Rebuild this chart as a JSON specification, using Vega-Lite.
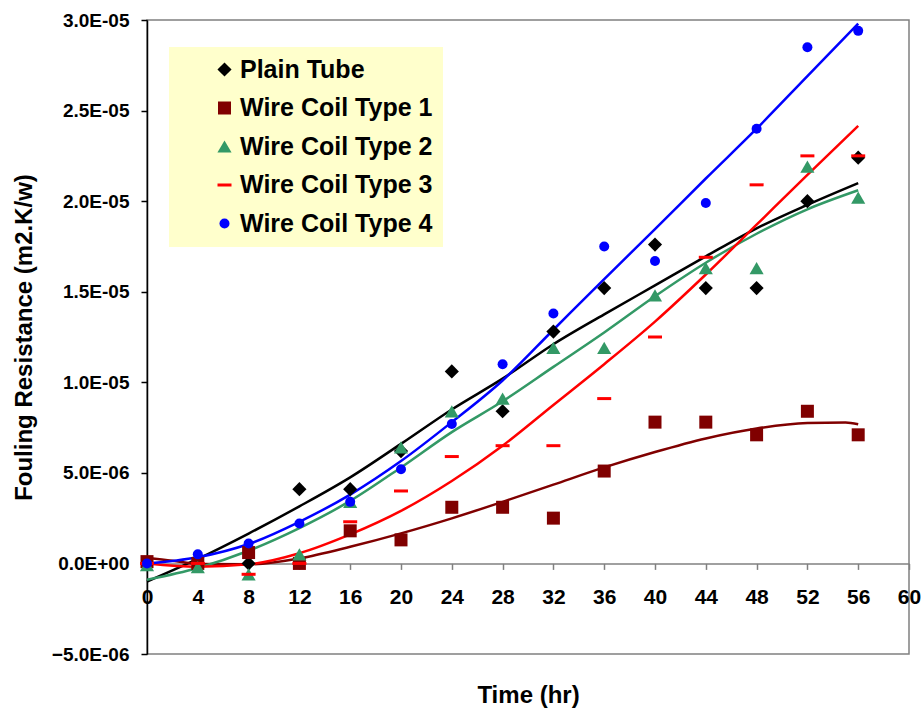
{
"$schema": "https://vega.github.io/schema/vega-lite/v6.json",
"width": 762, "height": 634,
"autosize": {"type": "none"},
"padding": {"left": 147, "top": 20, "right": 12, "bottom": 56},
"background": "white",
"config": {"font": "Liberation Sans", "view": {"stroke": "#808080", "strokeWidth": 1.5}, "axis": {"grid": false}},
"datasets": {
"pts": [
{"s":"Plain Tube","t":0,"v":0},{"s":"Plain Tube","t":4,"v":0},{"s":"Plain Tube","t":8,"v":0},{"s":"Plain Tube","t":12,"v":4.1e-6},{"s":"Plain Tube","t":16,"v":4.1e-6},{"s":"Plain Tube","t":20,"v":6.2e-6},{"s":"Plain Tube","t":24,"v":1.06e-5},{"s":"Plain Tube","t":28,"v":8.4e-6},{"s":"Plain Tube","t":32,"v":1.28e-5},{"s":"Plain Tube","t":36,"v":1.52e-5},{"s":"Plain Tube","t":40,"v":1.76e-5},{"s":"Plain Tube","t":44,"v":1.52e-5},{"s":"Plain Tube","t":48,"v":1.52e-5},{"s":"Plain Tube","t":52,"v":2.0e-5},{"s":"Plain Tube","t":56,"v":2.24e-5},
{"s":"Wire Coil Type 1","t":0,"v":1e-7},{"s":"Wire Coil Type 1","t":4,"v":0},{"s":"Wire Coil Type 1","t":8,"v":6e-7},{"s":"Wire Coil Type 1","t":12,"v":0},{"s":"Wire Coil Type 1","t":16,"v":1.8e-6},{"s":"Wire Coil Type 1","t":20,"v":1.3e-6},{"s":"Wire Coil Type 1","t":24,"v":3.1e-6},{"s":"Wire Coil Type 1","t":28,"v":3.1e-6},{"s":"Wire Coil Type 1","t":32,"v":2.5e-6},{"s":"Wire Coil Type 1","t":36,"v":5.1e-6},{"s":"Wire Coil Type 1","t":40,"v":7.8e-6},{"s":"Wire Coil Type 1","t":44,"v":7.8e-6},{"s":"Wire Coil Type 1","t":48,"v":7.1e-6},{"s":"Wire Coil Type 1","t":52,"v":8.4e-6},{"s":"Wire Coil Type 1","t":56,"v":7.1e-6},
{"s":"Wire Coil Type 2","t":0,"v":-1e-7},{"s":"Wire Coil Type 2","t":4,"v":-2e-7},{"s":"Wire Coil Type 2","t":8,"v":-6e-7},{"s":"Wire Coil Type 2","t":12,"v":5e-7},{"s":"Wire Coil Type 2","t":16,"v":3.4e-6},{"s":"Wire Coil Type 2","t":20,"v":6.4e-6},{"s":"Wire Coil Type 2","t":24,"v":8.4e-6},{"s":"Wire Coil Type 2","t":28,"v":9.1e-6},{"s":"Wire Coil Type 2","t":32,"v":1.19e-5},{"s":"Wire Coil Type 2","t":36,"v":1.19e-5},{"s":"Wire Coil Type 2","t":40,"v":1.48e-5},{"s":"Wire Coil Type 2","t":44,"v":1.63e-5},{"s":"Wire Coil Type 2","t":48,"v":1.63e-5},{"s":"Wire Coil Type 2","t":52,"v":2.19e-5},{"s":"Wire Coil Type 2","t":56,"v":2.02e-5},
{"s":"Wire Coil Type 3","t":0,"v":0},{"s":"Wire Coil Type 3","t":4,"v":0},{"s":"Wire Coil Type 3","t":8,"v":-6e-7},{"s":"Wire Coil Type 3","t":12,"v":0},{"s":"Wire Coil Type 3","t":16,"v":2.3e-6},{"s":"Wire Coil Type 3","t":20,"v":4.0e-6},{"s":"Wire Coil Type 3","t":24,"v":5.9e-6},{"s":"Wire Coil Type 3","t":28,"v":6.5e-6},{"s":"Wire Coil Type 3","t":32,"v":6.5e-6},{"s":"Wire Coil Type 3","t":36,"v":9.1e-6},{"s":"Wire Coil Type 3","t":40,"v":1.25e-5},{"s":"Wire Coil Type 3","t":44,"v":1.69e-5},{"s":"Wire Coil Type 3","t":48,"v":2.09e-5},{"s":"Wire Coil Type 3","t":52,"v":2.25e-5},{"s":"Wire Coil Type 3","t":56,"v":2.25e-5},
{"s":"Wire Coil Type 4","t":0,"v":0},{"s":"Wire Coil Type 4","t":4,"v":5e-7},{"s":"Wire Coil Type 4","t":8,"v":1.1e-6},{"s":"Wire Coil Type 4","t":12,"v":2.2e-6},{"s":"Wire Coil Type 4","t":16,"v":3.4e-6},{"s":"Wire Coil Type 4","t":20,"v":5.2e-6},{"s":"Wire Coil Type 4","t":24,"v":7.7e-6},{"s":"Wire Coil Type 4","t":28,"v":1.1e-5},{"s":"Wire Coil Type 4","t":32,"v":1.38e-5},{"s":"Wire Coil Type 4","t":36,"v":1.75e-5},{"s":"Wire Coil Type 4","t":40,"v":1.67e-5},{"s":"Wire Coil Type 4","t":44,"v":1.99e-5},{"s":"Wire Coil Type 4","t":48,"v":2.4e-5},{"s":"Wire Coil Type 4","t":52,"v":2.85e-5},{"s":"Wire Coil Type 4","t":56,"v":2.94e-5}
],
"trend": [
{"s":"Plain Tube","t":0,"v":-1.0e-6},{"s":"Plain Tube","t":4,"v":2.5e-7},{"s":"Plain Tube","t":8,"v":1.65e-6},{"s":"Plain Tube","t":12,"v":3.15e-6},{"s":"Plain Tube","t":16,"v":4.75e-6},{"s":"Plain Tube","t":20,"v":6.6e-6},{"s":"Plain Tube","t":24,"v":8.5e-6},{"s":"Plain Tube","t":28,"v":1.02e-5},{"s":"Plain Tube","t":32,"v":1.21e-5},{"s":"Plain Tube","t":36,"v":1.375e-5},{"s":"Plain Tube","t":40,"v":1.535e-5},{"s":"Plain Tube","t":44,"v":1.695e-5},{"s":"Plain Tube","t":48,"v":1.85e-5},{"s":"Plain Tube","t":52,"v":1.98e-5},{"s":"Plain Tube","t":56,"v":2.1e-5},
{"s":"Wire Coil Type 1","t":0,"v":3e-7},{"s":"Wire Coil Type 1","t":2,"v":1.5e-7},{"s":"Wire Coil Type 1","t":4,"v":-3e-8},{"s":"Wire Coil Type 1","t":8,"v":-5e-8},{"s":"Wire Coil Type 1","t":12,"v":2.8e-7},{"s":"Wire Coil Type 1","t":16,"v":9.2e-7},{"s":"Wire Coil Type 1","t":20,"v":1.66e-6},{"s":"Wire Coil Type 1","t":24,"v":2.49e-6},{"s":"Wire Coil Type 1","t":28,"v":3.4e-6},{"s":"Wire Coil Type 1","t":32,"v":4.35e-6},{"s":"Wire Coil Type 1","t":36,"v":5.3e-6},{"s":"Wire Coil Type 1","t":40,"v":6.15e-6},{"s":"Wire Coil Type 1","t":44,"v":6.9e-6},{"s":"Wire Coil Type 1","t":48,"v":7.45e-6},{"s":"Wire Coil Type 1","t":52,"v":7.75e-6},{"s":"Wire Coil Type 1","t":55,"v":7.78e-6},{"s":"Wire Coil Type 1","t":56,"v":7.68e-6},
{"s":"Wire Coil Type 2","t":0,"v":-9e-7},{"s":"Wire Coil Type 2","t":4,"v":-2.5e-7},{"s":"Wire Coil Type 2","t":8,"v":7e-7},{"s":"Wire Coil Type 2","t":12,"v":1.95e-6},{"s":"Wire Coil Type 2","t":16,"v":3.45e-6},{"s":"Wire Coil Type 2","t":20,"v":5.3e-6},{"s":"Wire Coil Type 2","t":24,"v":7.25e-6},{"s":"Wire Coil Type 2","t":28,"v":8.95e-6},{"s":"Wire Coil Type 2","t":32,"v":1.085e-5},{"s":"Wire Coil Type 2","t":36,"v":1.275e-5},{"s":"Wire Coil Type 2","t":40,"v":1.475e-5},{"s":"Wire Coil Type 2","t":44,"v":1.66e-5},{"s":"Wire Coil Type 2","t":48,"v":1.82e-5},{"s":"Wire Coil Type 2","t":52,"v":1.955e-5},{"s":"Wire Coil Type 2","t":56,"v":2.06e-5},
{"s":"Wire Coil Type 3","t":0,"v":0},{"s":"Wire Coil Type 3","t":4,"v":-1.8e-7},{"s":"Wire Coil Type 3","t":8,"v":-5e-8},{"s":"Wire Coil Type 3","t":12,"v":5.6e-7},{"s":"Wire Coil Type 3","t":16,"v":1.6e-6},{"s":"Wire Coil Type 3","t":20,"v":2.9e-6},{"s":"Wire Coil Type 3","t":24,"v":4.55e-6},{"s":"Wire Coil Type 3","t":28,"v":6.5e-6},{"s":"Wire Coil Type 3","t":32,"v":8.75e-6},{"s":"Wire Coil Type 3","t":36,"v":1.1e-5},{"s":"Wire Coil Type 3","t":40,"v":1.335e-5},{"s":"Wire Coil Type 3","t":44,"v":1.595e-5},{"s":"Wire Coil Type 3","t":48,"v":1.87e-5},{"s":"Wire Coil Type 3","t":52,"v":2.145e-5},{"s":"Wire Coil Type 3","t":56,"v":2.415e-5},
{"s":"Wire Coil Type 4","t":0,"v":0},{"s":"Wire Coil Type 4","t":4,"v":3.4e-7},{"s":"Wire Coil Type 4","t":8,"v":1.07e-6},{"s":"Wire Coil Type 4","t":12,"v":2.3e-6},{"s":"Wire Coil Type 4","t":16,"v":3.8e-6},{"s":"Wire Coil Type 4","t":20,"v":5.65e-6},{"s":"Wire Coil Type 4","t":24,"v":7.8e-6},{"s":"Wire Coil Type 4","t":28,"v":1.01e-5},{"s":"Wire Coil Type 4","t":32,"v":1.29e-5},{"s":"Wire Coil Type 4","t":36,"v":1.57e-5},{"s":"Wire Coil Type 4","t":40,"v":1.845e-5},{"s":"Wire Coil Type 4","t":44,"v":2.125e-5},{"s":"Wire Coil Type 4","t":48,"v":2.4e-5},{"s":"Wire Coil Type 4","t":52,"v":2.69e-5},{"s":"Wire Coil Type 4","t":56,"v":2.98e-5}
]
},
"encoding": {
"x": {"field": "t", "type": "quantitative", "scale": {"domain": [0, 60], "nice": false, "zero": false},
 "axis": {"values": [0,4,8,12,16,20,24,28,32,36,40,44,48,52,56,60], "offset": -90.6, "domainColor": "#808080", "domainWidth": 1.5, "tickColor": "#808080", "tickWidth": 1.5, "tickSize": 6, "labelFontSize": 21, "labelFontWeight": "bold", "labelColor": "black", "labelPadding": 17, "labelFlush": false, "labelOverlap": false, "title": "Time (hr)", "titleFontSize": 24, "titleFontWeight": "bold", "titleColor": "black", "titlePadding": 76}},
"y": {"field": "v", "type": "quantitative", "scale": {"domain": [-5e-6, 3e-5], "nice": false, "zero": false},
 "axis": {"values": [-5e-6, 0, 5e-6, 1e-5, 1.5e-5, 2e-5, 2.5e-5, 3e-5], "labelExpr": "replace(replace(format(datum.value, '.1e'), 'e-', 'E-0'), 'e+', 'E+0')", "domainColor": "black", "domainWidth": 1.5, "tickColor": "black", "tickWidth": 1.5, "tickSize": 6, "labelFontSize": 19, "labelFontWeight": "bold", "labelColor": "black", "labelPadding": 12, "labelFlush": false, "labelOverlap": false, "title": "Fouling Resistance (m2.K/w)", "titleFontSize": 24, "titleFontWeight": "bold", "titleColor": "black", "titlePadding": 15}}
},
"layer": [
{"data": {"name": "trend"}, "mark": {"type": "line", "strokeWidth": 2.5, "interpolate": "monotone"},
 "encoding": {"color": {"field": "s", "type": "nominal", "scale": {"range": ["#000000","#800000","#339966","#FF0000","#0000FF"]}, "legend": null}}},
{"data": {"name": "pts"}, "mark": {"type": "point", "filled": true, "strokeWidth": 3, "opacity": 1},
 "encoding": {
  "fill": {"field": "s", "type": "nominal", "title": null, "scale": {"domain": ["Plain Tube","Wire Coil Type 1","Wire Coil Type 2","Wire Coil Type 3","Wire Coil Type 4"], "range": ["#000000","#800000","#339966","#FF0000","#0000FF"]},
   "legend": {"orient": "none", "legendX": 22, "legendY": 27, "disable": false, "fillColor": "#FFFFCC", "padding": 10, "labelFontSize": 25, "labelFontWeight": "bold", "labelColor": "black", "rowPadding": 12.5, "symbolOffset": 33, "labelOffset": 3, "symbolStrokeWidth": 3, "labelLimit": 400}},
  "stroke": {"field": "s", "type": "nominal", "title": null, "scale": {"domain": ["Plain Tube","Wire Coil Type 1","Wire Coil Type 2","Wire Coil Type 3","Wire Coil Type 4"], "range": ["transparent","transparent","transparent","#FF0000","transparent"]}},
  "shape": {"field": "s", "type": "nominal", "title": null, "scale": {"domain": ["Plain Tube","Wire Coil Type 1","Wire Coil Type 2","Wire Coil Type 3","Wire Coil Type 4"], "range": ["diamond","square","triangle-up","stroke","circle"]}},
  "size": {"field": "s", "type": "nominal", "title": null, "scale": {"type": "ordinal", "domain": ["Plain Tube","Wire Coil Type 1","Wire Coil Type 2","Wire Coil Type 3","Wire Coil Type 4"], "range": [200, 169, 200, 196, 100]}}
 }}
]
}
